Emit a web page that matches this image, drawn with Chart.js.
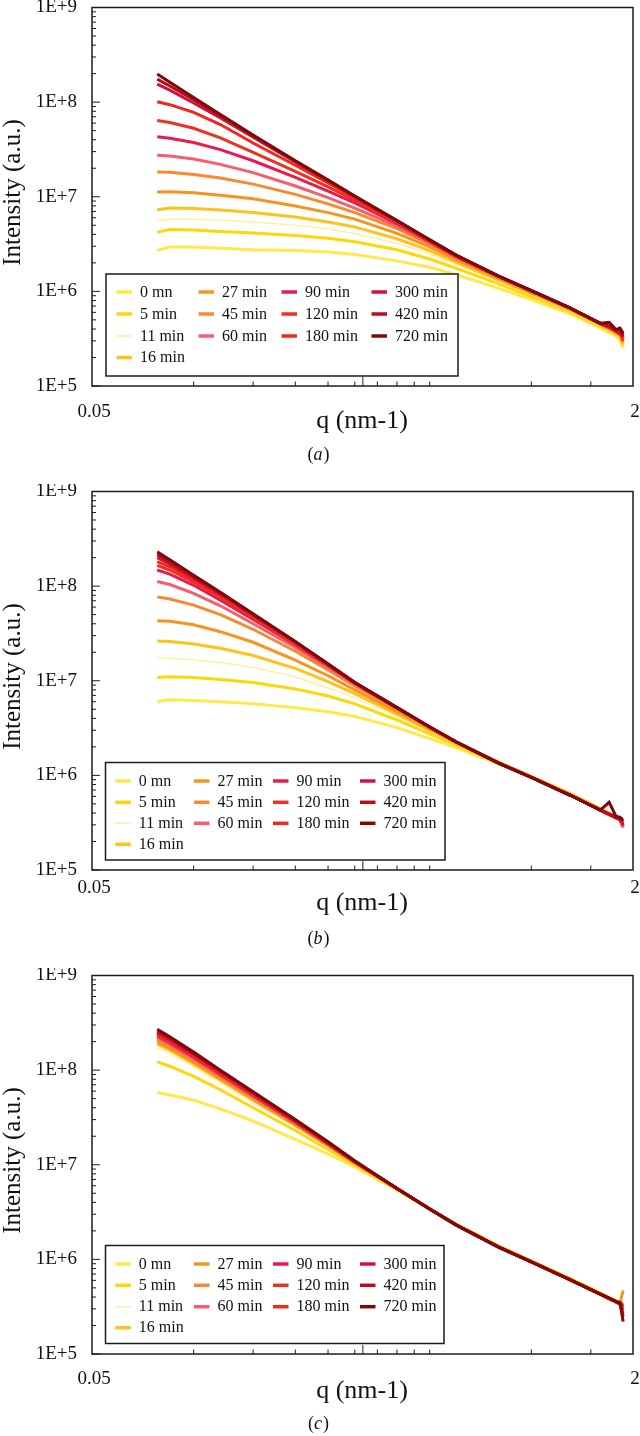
<!DOCTYPE html>
<html>
<head>
<meta charset="utf-8">
<script src="https://cdn.jsdelivr.net/npm/chart.js@4.4.0/dist/chart.umd.min.js"></script>
<style>
html, body { margin: 0; padding: 0; background: #fff; }
.panel { position: relative; width: 640px; }
</style>
</head>
<body>
<div class="panel" style="height:484px"><canvas id="chartA"></canvas></div>
<div class="panel" style="height:484px"><canvas id="chartB"></canvas></div>
<div class="panel" style="height:468px"><canvas id="chartC"></canvas></div>
<script>
// q grid (nm-1) shared by every curve
const qValues = [0.078, 0.085, 0.1, 0.12, 0.15, 0.2, 0.25, 0.3, 0.4, 0.5, 0.6, 0.8, 1.0, 1.3, 1.6, 1.7, 1.78, 1.83, 1.87];

const timeLabels = ['0 mn', '5 min', '11 min', '16 min', '27 min', '45 min', '60 min',
                    '90 min', '120 min', '180 min', '300 min', '420 min', '720 min'];

// axis tick values
const xMinorTicks = [0.1, 0.15, 0.2, 0.25, 0.3, 0.35, 0.4, 0.45, 0.5, 1.0, 1.5];
const xMajorTicks = [0.317];
const xEndLabels = [[0.05, '0.05'], [2, '2']];
const yDecades = [5, 6, 7, 8, 9];

// intensities (a.u.), one row per time, same order as timeLabels
const intensityA = [
  [2.7e6, 2.95e6, 2.95e6, 2.85e6, 2.75e6, 2.7e6, 2.6e6, 2.45e6, 2.1e6, 1.8e6, 1.5e6, 1.08e6, 8.2e5, 5.8e5, 4.1e5, 3.65e5, 3.4e5, 3.1e5, 2.5e5],
  [4.2e6, 4.5e6, 4.45e6, 4.3e6, 4.15e6, 3.9e6, 3.65e6, 3.35e6, 2.75e6, 2.2e6, 1.75e6, 1.2e6, 8.8e5, 6.1e5, 4.3e5, 3.85e5, 3.5e5, 3.3e5, 2.7e5],
  [5.6e6, 5.8e6, 5.8e6, 5.65e6, 5.4e6, 5.0e6, 4.55e6, 4.1e6, 3.2e6, 2.5e6, 1.92e6, 1.27e6, 9.2e5, 6.2e5, 4.35e5, 3.9e5, 3.6e5, 3.4e5, 3.0e5],
  [7.3e6, 7.6e6, 7.5e6, 7.25e6, 6.8e6, 6.1e6, 5.4e6, 4.8e6, 3.6e6, 2.7e6, 2.02e6, 1.32e6, 9.5e5, 6.4e5, 4.45e5, 4.0e5, 3.65e5, 3.5e5, 2.8e5],
  [1.12e7, 1.13e7, 1.1e7, 1.04e7, 9.5e6, 8.0e6, 6.8e6, 5.8e6, 4.1e6, 2.95e6, 2.15e6, 1.37e6, 9.7e5, 6.5e5, 4.5e5, 4.05e5, 3.7e5, 3.6e5, 3.1e5],
  [1.83e7, 1.82e7, 1.72e7, 1.58e7, 1.36e7, 1.06e7, 8.4e6, 6.8e6, 4.6e6, 3.15e6, 2.25e6, 1.4e6, 9.9e5, 6.6e5, 4.55e5, 4.1e5, 3.75e5, 3.55e5, 2.9e5],
  [2.75e7, 2.7e7, 2.5e7, 2.2e7, 1.8e7, 1.3e7, 9.8e6, 7.6e6, 4.9e6, 3.25e6, 2.3e6, 1.42e6, 1.0e6, 6.6e5, 4.55e5, 4.1e5, 3.8e5, 3.7e5, 3.2e5],
  [4.3e7, 4.15e7, 3.75e7, 3.15e7, 2.4e7, 1.6e7, 1.15e7, 8.6e6, 5.2e6, 3.35e6, 2.33e6, 1.43e6, 1.01e6, 6.7e5, 4.6e5, 4.15e5, 3.8e5, 3.5e5, 3.3e5],
  [6.4e7, 6.1e7, 5.3e7, 4.2e7, 2.95e7, 1.85e7, 1.27e7, 9.2e6, 5.35e6, 3.4e6, 2.36e6, 1.44e6, 1.01e6, 6.7e5, 4.6e5, 4.2e5, 3.85e5, 3.75e5, 3.0e5],
  [1.01e8, 9.4e7, 7.8e7, 5.8e7, 3.7e7, 2.15e7, 1.4e7, 9.8e6, 5.5e6, 3.45e6, 2.38e6, 1.44e6, 1.02e6, 6.7e5, 4.6e5, 4.2e5, 3.8e5, 3.9e5, 3.4e5],
  [1.55e8, 1.34e8, 9.8e7, 6.8e7, 4.25e7, 2.33e7, 1.48e7, 1.0e7, 5.55e6, 3.48e6, 2.4e6, 1.45e6, 1.02e6, 6.7e5, 4.6e5, 4.25e5, 3.85e5, 3.6e5, 3.5e5],
  [1.75e8, 1.48e8, 1.06e8, 7.2e7, 4.4e7, 2.38e7, 1.5e7, 1.01e7, 5.6e6, 3.5e6, 2.4e6, 1.45e6, 1.02e6, 6.7e5, 4.6e5, 4.3e5, 3.9e5, 4.0e5, 3.3e5],
  [1.98e8, 1.62e8, 1.12e8, 7.4e7, 4.5e7, 2.4e7, 1.5e7, 1.02e7, 5.6e6, 3.5e6, 2.4e6, 1.45e6, 1.02e6, 6.7e5, 4.6e5, 4.7e5, 3.95e5, 4.1e5, 3.6e5]
];

const intensityB = [
  [6.0e6, 6.3e6, 6.2e6, 6.0e6, 5.7e6, 5.2e6, 4.7e6, 4.2e6, 3.2e6, 2.45e6, 1.95e6, 1.32e6, 9.6e5, 6.3e5, 4.4e5, 3.95e5, 3.6e5, 3.4e5, 2.8e5],
  [1.08e7, 1.1e7, 1.08e7, 1.03e7, 9.6e6, 8.2e6, 6.9e6, 5.7e6, 3.85e6, 2.75e6, 2.08e6, 1.36e6, 9.7e5, 6.4e5, 4.4e5, 3.95e5, 3.65e5, 3.45e5, 2.9e5],
  [1.75e7, 1.73e7, 1.67e7, 1.55e7, 1.38e7, 1.1e7, 8.4e6, 6.6e6, 4.2e6, 2.9e6, 2.15e6, 1.38e6, 9.7e5, 6.4e5, 4.45e5, 4.0e5, 3.7e5, 3.5e5, 3.1e5],
  [2.63e7, 2.6e7, 2.45e7, 2.2e7, 1.85e7, 1.35e7, 9.8e6, 7.3e6, 4.45e6, 3.0e6, 2.2e6, 1.38e6, 9.7e5, 6.4e5, 4.45e5, 4.0e5, 3.7e5, 3.5e5, 2.9e5],
  [4.3e7, 4.25e7, 3.9e7, 3.3e7, 2.55e7, 1.65e7, 1.13e7, 8.0e6, 4.7e6, 3.1e6, 2.22e6, 1.37e6, 9.6e5, 6.3e5, 4.4e5, 3.95e5, 3.65e5, 3.4e5, 3.0e5],
  [7.7e7, 7.3e7, 6.3e7, 5.0e7, 3.5e7, 2.05e7, 1.3e7, 8.8e6, 5.0e6, 3.2e6, 2.24e6, 1.36e6, 9.6e5, 6.3e5, 4.35e5, 3.9e5, 3.6e5, 3.45e5, 3.2e5],
  [1.12e8, 1.04e8, 8.4e7, 6.2e7, 4.0e7, 2.25e7, 1.38e7, 9.2e6, 5.1e6, 3.22e6, 2.25e6, 1.35e6, 9.5e5, 6.2e5, 4.3e5, 3.9e5, 3.6e5, 3.35e5, 2.8e5],
  [1.48e8, 1.34e8, 1.02e8, 7.1e7, 4.45e7, 2.4e7, 1.44e7, 9.4e6, 5.15e6, 3.24e6, 2.25e6, 1.35e6, 9.5e5, 6.2e5, 4.3e5, 3.85e5, 3.55e5, 3.4e5, 3.3e5],
  [1.66e8, 1.48e8, 1.1e8, 7.6e7, 4.65e7, 2.45e7, 1.46e7, 9.5e6, 5.2e6, 3.25e6, 2.25e6, 1.35e6, 9.5e5, 6.2e5, 4.3e5, 3.9e5, 3.6e5, 3.5e5, 2.9e5],
  [1.82e8, 1.6e8, 1.16e8, 7.9e7, 4.8e7, 2.5e7, 1.48e7, 9.5e6, 5.2e6, 3.25e6, 2.25e6, 1.35e6, 9.5e5, 6.2e5, 4.3e5, 3.85e5, 3.6e5, 3.4e5, 3.4e5],
  [2.0e8, 1.72e8, 1.22e8, 8.2e7, 4.95e7, 2.55e7, 1.5e7, 9.6e6, 5.2e6, 3.25e6, 2.25e6, 1.35e6, 9.5e5, 6.2e5, 4.3e5, 3.9e5, 3.55e5, 3.6e5, 3.0e5],
  [2.15e8, 1.8e8, 1.26e8, 8.4e7, 5.0e7, 2.58e7, 1.5e7, 9.6e6, 5.2e6, 3.25e6, 2.25e6, 1.35e6, 9.5e5, 6.2e5, 4.3e5, 3.9e5, 3.6e5, 3.45e5, 3.5e5],
  [2.3e8, 1.9e8, 1.3e8, 8.6e7, 5.1e7, 2.6e7, 1.5e7, 9.6e6, 5.2e6, 3.25e6, 2.25e6, 1.35e6, 9.5e5, 6.2e5, 4.3e5, 5.2e5, 3.7e5, 3.6e5, 3.3e5]
];

const intensityC = [
  [5.8e7, 5.5e7, 4.8e7, 3.9e7, 2.9e7, 1.85e7, 1.3e7, 9.5e6, 5.4e6, 3.4e6, 2.35e6, 1.38e6, 9.6e5, 6.3e5, 4.4e5, 3.95e5, 3.65e5, 3.45e5, 3.2e5],
  [1.22e8, 1.1e8, 8.6e7, 6.2e7, 4.0e7, 2.3e7, 1.45e7, 1.0e7, 5.5e6, 3.42e6, 2.35e6, 1.38e6, 9.6e5, 6.3e5, 4.4e5, 3.95e5, 3.65e5, 3.5e5, 3.4e5],
  [1.72e8, 1.5e8, 1.08e8, 7.3e7, 4.55e7, 2.5e7, 1.55e7, 1.03e7, 5.55e6, 3.42e6, 2.33e6, 1.37e6, 9.5e5, 6.2e5, 4.35e5, 3.9e5, 3.6e5, 3.45e5, 3.3e5],
  [1.88e8, 1.62e8, 1.16e8, 7.8e7, 4.8e7, 2.6e7, 1.58e7, 1.04e7, 5.55e6, 3.42e6, 2.33e6, 1.37e6, 9.5e5, 6.2e5, 4.35e5, 3.9e5, 3.6e5, 3.4e5, 3.5e5],
  [1.98e8, 1.7e8, 1.21e8, 8.1e7, 4.95e7, 2.65e7, 1.6e7, 1.05e7, 5.6e6, 3.4e6, 2.32e6, 1.36e6, 9.5e5, 6.15e5, 4.3e5, 3.9e5, 3.6e5, 3.45e5, 4.7e5],
  [2.1e8, 1.8e8, 1.27e8, 8.4e7, 5.1e7, 2.7e7, 1.62e7, 1.05e7, 5.6e6, 3.4e6, 2.3e6, 1.36e6, 9.45e5, 6.1e5, 4.3e5, 3.85e5, 3.55e5, 3.4e5, 3.0e5],
  [2.2e8, 1.87e8, 1.32e8, 8.7e7, 5.25e7, 2.76e7, 1.64e7, 1.06e7, 5.6e6, 3.4e6, 2.3e6, 1.35e6, 9.4e5, 6.1e5, 4.3e5, 3.85e5, 3.6e5, 3.4e5, 3.1e5],
  [2.3e8, 1.95e8, 1.37e8, 9.0e7, 5.4e7, 2.82e7, 1.66e7, 1.07e7, 5.6e6, 3.4e6, 2.3e6, 1.35e6, 9.4e5, 6.1e5, 4.3e5, 3.85e5, 3.55e5, 3.35e5, 2.9e5],
  [2.38e8, 2.0e8, 1.4e8, 9.2e7, 5.5e7, 2.85e7, 1.68e7, 1.07e7, 5.6e6, 3.4e6, 2.3e6, 1.35e6, 9.4e5, 6.1e5, 4.3e5, 3.9e5, 3.6e5, 3.45e5, 3.3e5],
  [2.45e8, 2.06e8, 1.44e8, 9.4e7, 5.6e7, 2.9e7, 1.7e7, 1.08e7, 5.6e6, 3.4e6, 2.3e6, 1.35e6, 9.4e5, 6.1e5, 4.3e5, 3.85e5, 3.55e5, 3.35e5, 2.7e5],
  [2.5e8, 2.1e8, 1.47e8, 9.6e7, 5.7e7, 2.92e7, 1.7e7, 1.08e7, 5.6e6, 3.4e6, 2.3e6, 1.35e6, 9.4e5, 6.1e5, 4.3e5, 3.9e5, 3.6e5, 3.4e5, 3.2e5],
  [2.58e8, 2.16e8, 1.5e8, 9.8e7, 5.8e7, 2.95e7, 1.72e7, 1.09e7, 5.6e6, 3.4e6, 2.3e6, 1.35e6, 9.4e5, 6.1e5, 4.3e5, 3.85e5, 3.55e5, 3.45e5, 2.5e5],
  [2.7e8, 2.25e8, 1.55e8, 1.0e8, 5.9e7, 3.0e7, 1.75e7, 1.1e7, 5.6e6, 3.4e6, 2.3e6, 1.35e6, 9.4e5, 6.1e5, 4.3e5, 3.9e5, 3.6e5, 3.5e5, 2.2e5]
];

// styles
const seriesColors = ['#FFE94A', '#FFD60A', '#FFF0A0', '#FFC21C', '#F7941D', '#F68A2E', '#F3606C',
                      '#EA1B4C', '#EE3122', '#F0281A', '#D80F3B', '#B50E1E', '#7C0A0A'];
const seriesWidths = [3, 3, 1.5, 3, 3, 3, 3, 3, 3, 3, 3, 3, 3];
const legendColumns = [[0, 1, 2, 3], [4, 5, 6], [7, 8, 9], [10, 11, 12]];
const SERIF = '"Liberation Serif", "Times New Roman", serif';

const panels = [
  { id: 'chartA', letter: 'a', height: 484, data: intensityA, endLabelY: 412, titleY: 421, capY: 455,
    legend: { x: 106, y: 274, w: 352, h: 102, rows: [292, 314, 336, 357.5], cols: [116.5, 198.5, 281.5, 371.5] } },
  { id: 'chartB', letter: 'b', height: 484, data: intensityB, endLabelY: 404, titleY: 419.5, capY: 455,
    legend: { x: 105.5, y: 278.5, w: 339.5, h: 97.5, rows: [297, 318.3, 339.3, 360.3], cols: [115.3, 194, 273, 360] } },
  { id: 'chartC', letter: 'c', height: 468, data: intensityC, endLabelY: 411, titleY: 423.5, capY: 456,
    legend: { x: 105.5, y: 277.5, w: 338.5, h: 98, rows: [296, 317.3, 338.7, 359.7], cols: [115.3, 194, 273, 360] } }
];

const PLOT_BOTTOM = 386;

const line = (ctx, x1, y1, x2, y2) => {
  ctx.beginPath();
  ctx.moveTo(x1, y1);
  ctx.lineTo(x2, y2);
  ctx.stroke();
};

const figureDecor = {
  id: 'figureDecor',
  afterDraw(chart, args, opts) {
    const { ctx, chartArea: a, scales: { x, y } } = chart;
    ctx.save();
    ctx.strokeStyle = '#1c1c1c';
    ctx.fillStyle = '#111';

    // frame
    ctx.lineWidth = 1.5;
    ctx.strokeRect(a.left, a.top, a.right - a.left, a.bottom - a.top);

    // y ticks (inward) and labels
    ctx.lineWidth = 1;
    ctx.font = '19px ' + SERIF;
    ctx.textAlign = 'right';
    ctx.textBaseline = 'middle';
    yDecades.forEach(e => {
      const py = y.getPixelForValue(Math.pow(10, e));
      line(ctx, a.left, py, a.left + 8, py);
      ctx.fillText('1E+' + e, 77, py);
      if (e < 9) {
        for (let m = 2; m <= 9; m++) {
          const pm = y.getPixelForValue(m * Math.pow(10, e));
          line(ctx, a.left, pm, a.left + 4, pm);
        }
      }
    });

    // x ticks (inward)
    xMinorTicks.forEach(v => {
      const px = x.getPixelForValue(v);
      line(ctx, px, a.bottom, px, a.bottom - 4.5);
    });
    xMajorTicks.forEach(v => {
      const px = x.getPixelForValue(v);
      line(ctx, px, a.bottom, px, a.bottom - 9);
    });

    // x end labels
    ctx.textAlign = 'center';
    xEndLabels.forEach(([v, txt]) => {
      ctx.fillText(txt, x.getPixelForValue(v) + 2, opts.endLabelY);
    });

    // axis titles
    ctx.font = '26px ' + SERIF;
    ctx.fillText('q (nm-1)', 362, opts.titleY);
    ctx.save();
    ctx.translate(13, 192.5);
    ctx.rotate(-Math.PI / 2);
    ctx.font = '25px ' + SERIF;
    ctx.fillText('Intensity (a.u.)', 0, 0);
    ctx.restore();

    // caption "(a)" with italic letter
    ctx.font = '18px ' + SERIF;
    const wParen = ctx.measureText('(').width;
    ctx.font = 'italic 18px ' + SERIF;
    const wLetter = ctx.measureText(opts.letter).width;
    let cx = 318 - (2 * wParen + wLetter) / 2;
    ctx.textAlign = 'left';
    ctx.font = '18px ' + SERIF;
    ctx.fillText('(', cx, opts.capY);
    ctx.font = 'italic 18px ' + SERIF;
    ctx.fillText(opts.letter, cx + wParen, opts.capY);
    ctx.font = '18px ' + SERIF;
    ctx.fillText(')', cx + wParen + wLetter + 1, opts.capY);

    // legend, column-major like the original
    const L = opts.legend;
    ctx.fillStyle = '#fff';
    ctx.fillRect(L.x, L.y, L.w, L.h);
    ctx.lineWidth = 1.5;
    ctx.strokeStyle = '#1c1c1c';
    ctx.strokeRect(L.x, L.y, L.w, L.h);
    ctx.font = '16px ' + SERIF;
    ctx.textAlign = 'left';
    ctx.lineCap = 'butt';
    legendColumns.forEach((col, ci) => {
      col.forEach((si, ri) => {
        const ds = chart.data.datasets[si];
        const ly = L.rows[ri];
        const lx = L.cols[ci];
        ctx.strokeStyle = ds.borderColor;
        ctx.lineWidth = si === 2 ? 1.5 : 3.5;
        line(ctx, lx, ly, lx + 15.5, ly);
        ctx.fillStyle = '#111';
        ctx.fillText(ds.label, lx + 23.5, ly + 0.5);
      });
    });
    ctx.restore();
  }
};

panels.forEach(p => {
  const datasets = p.data.map((row, i) => ({
    label: timeLabels[i],
    data: row.map((v, k) => ({ x: qValues[k], y: v })),
    borderColor: seriesColors[i],
    backgroundColor: seriesColors[i],
    borderWidth: seriesWidths[i],
    pointRadius: 0,
    tension: 0,
    fill: false,
    order: timeLabels.length - i   // latest time drawn on top
  }));

  new Chart(document.getElementById(p.id), {
    type: 'line',
    data: { datasets },
    options: {
      responsive: true,
      maintainAspectRatio: false,
      animation: false,
      layout: { padding: { top: 7.5, right: 7, left: 0, bottom: 0 } },
      plugins: {
        legend: { display: false },
        tooltip: { enabled: false },
        figureDecor: p
      },
      scales: {
        x: {
          type: 'logarithmic', min: 0.05, max: 2,
          ticks: { display: false },
          grid: { display: false, drawTicks: false },
          border: { display: false },
          afterFit: s => { s.height = p.height - PLOT_BOTTOM; }
        },
        y: {
          type: 'logarithmic', min: 1e5, max: 1e9,
          ticks: { display: false },
          grid: { display: false, drawTicks: false },
          border: { display: false },
          afterFit: s => { s.width = 92; }
        }
      }
    },
    plugins: [figureDecor]
  });
});
</script>
</body>
</html>
